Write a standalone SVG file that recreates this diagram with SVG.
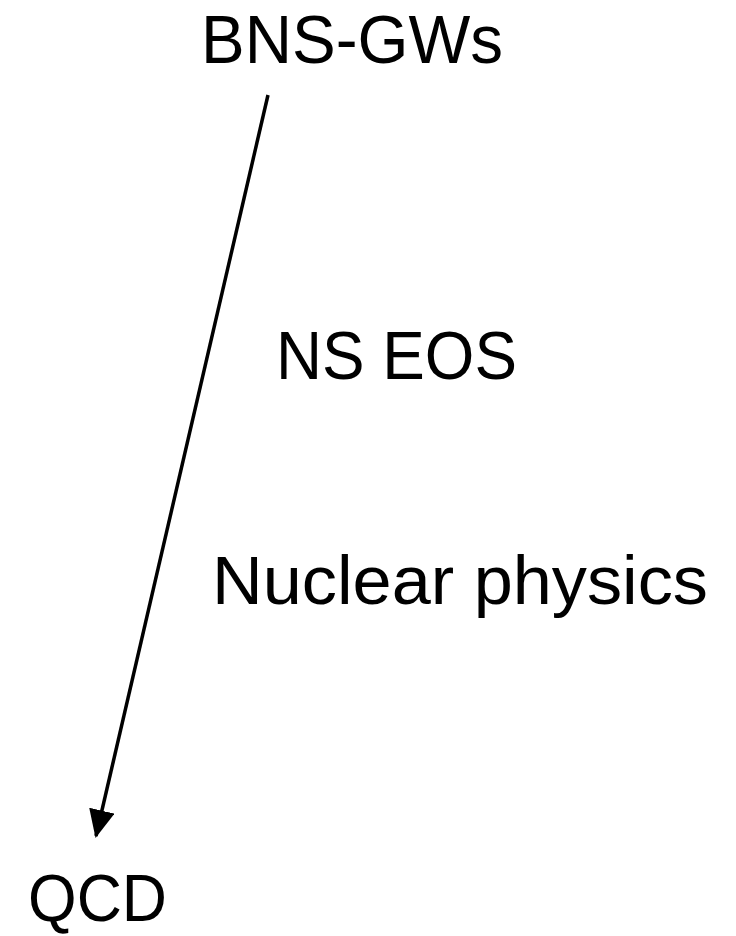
<svg xmlns="http://www.w3.org/2000/svg" width="736" height="936" viewBox="0 0 736 936">
<style>
.lbl{font-family:"Liberation Sans","Noto Sans",Arial,sans-serif;font-size:68px;fill:#000;}
.edge{stroke:#000;stroke-width:3.5;fill:none;}
</style>
<defs>
<marker id="ah" markerUnits="userSpaceOnUse" markerWidth="28" markerHeight="26" refX="26" refY="13" orient="auto" viewBox="0 0 28 26">
<path d="M0,0 L28,13 L0,26 Z" fill="#000"/>
</marker>
</defs>
<rect width="736" height="936" fill="#fff"/>
<g id="connectors">
<line class="edge" x1="268" y1="95" x2="96" y2="836" marker-end="url(#ah)"/>
</g>
<g id="bns"><text class="lbl" x="201" y="63" textLength="302" lengthAdjust="spacingAndGlyphs">BNS-GWs</text></g>
<g id="nseos"><text class="lbl" x="276" y="379" textLength="241" lengthAdjust="spacingAndGlyphs">NS EOS</text></g>
<g id="nuclear"><text class="lbl" x="212" y="604" textLength="496" lengthAdjust="spacingAndGlyphs">Nuclear physics</text></g>
<g id="qcd"><text class="lbl" x="28" y="921" style="font-size:66px" textLength="139" lengthAdjust="spacingAndGlyphs">QCD</text></g>
</svg>
